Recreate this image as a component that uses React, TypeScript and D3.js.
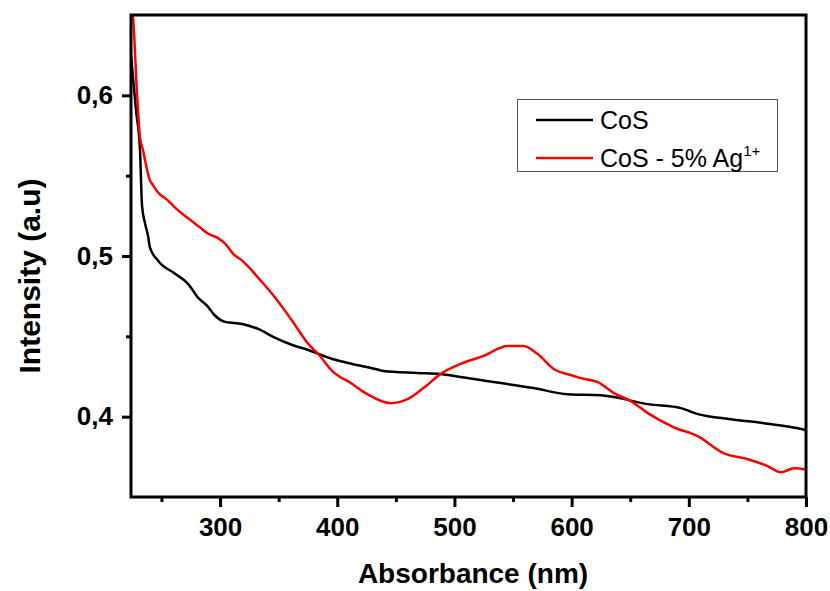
import React, { useEffect, useRef } from "react";
import * as d3 from "d3";

// wavelength (nm) and intensity
const cosNm = [224, 228.3, 231.7, 233.4, 236, 238.5, 240.2, 247.1, 261.6, 272.7, 281.3, 289, 295.8, 304.3, 318.9, 332.5, 347.1, 361.6, 375.3, 395.8, 412.9, 432.5, 439.4, 468.4, 488.1, 511.2, 539.4, 567.6, 596.6, 624.9, 636, 665, 693.2, 707.8, 736, 764.2, 793.2, 800];
const cosVal = [0.625, 0.5907, 0.5657, 0.5314, 0.5202, 0.5127, 0.5052, 0.4971, 0.489, 0.4827, 0.474, 0.469, 0.4628, 0.459, 0.4577, 0.4546, 0.449, 0.4446, 0.4415, 0.4359, 0.4328, 0.4297, 0.4284, 0.4272, 0.4265, 0.424, 0.4209, 0.4178, 0.414, 0.4134, 0.4122, 0.4078, 0.4053, 0.4016, 0.3984, 0.3959, 0.3928, 0.3916];

const agNm = [224, 225.7, 229.1, 231.7, 234.3, 236, 240.2, 241.9, 247.1, 255.6, 261.6, 271.9, 283, 289.8, 297.5, 304.3, 311.2, 318.9, 325.7, 332.5, 347.1, 361.6, 375.3, 383.8, 395.8, 412.9, 421.4, 425.7, 445.4, 459.9, 473.6, 488.1, 505.2, 524.9, 545.4, 559, 571, 584.7, 599.2, 607.8, 622.3, 636, 650.5, 665, 687.2, 707.8, 730, 750.5, 767.6, 778.7, 789.8, 800];
const agVal = [0.655, 0.6488, 0.6013, 0.5738, 0.5657, 0.5595, 0.547, 0.5451, 0.5395, 0.5345, 0.5301, 0.5239, 0.5177, 0.5139, 0.5114, 0.5077, 0.5014, 0.4971, 0.4921, 0.4865, 0.474, 0.4596, 0.4453, 0.439, 0.4284, 0.4203, 0.4159, 0.414, 0.4084, 0.4109, 0.4178, 0.4265, 0.4328, 0.4378, 0.444, 0.444, 0.439, 0.4297, 0.4259, 0.424, 0.4215, 0.4147, 0.4097, 0.4022, 0.3934, 0.3878, 0.3772, 0.3735, 0.3691, 0.3654, 0.3679, 0.3672];

const xMajor = [300, 400, 500, 600, 700, 800];
const xMinor = [250, 350, 450, 550, 650, 750];
const yMajor = [0.4, 0.5, 0.6];
const yMinor = [0.45, 0.55];

const seriesNames = ["CoS", "CoS - 5% Ag"];
const seriesColors = ["#000000", "#ff0000"];

const FONT = "'Liberation Sans', Arial, sans-serif";

const App = () => {
  const svgRef = useRef<SVGSVGElement>(null);

  useEffect(() => {
    const svg = d3.select(svgRef.current);
    svg.selectAll("*").remove();

    const left = 131, right = 806, top = 15, bottom = 497;

    const x = d3.scaleLinear().domain([224, 800]).range([left, right]);
    const y = d3.scaleLinear().domain([0.35, 0.65]).range([bottom, top]);
    const comma = (d: any) => d3.format(".1f")(d).replace(".", ",");

    svg
      .append("defs")
      .append("clipPath")
      .attr("id", "plot")
      .append("rect")
      .attr("x", left)
      .attr("y", top)
      .attr("width", right - left)
      .attr("height", bottom - top);

    const line = d3
      .line<[number, number]>()
      .x((d) => x(d[0]))
      .y((d) => y(d[1]))
      .curve(d3.curveMonotoneX);

    const data = [
      d3.zip(cosNm, cosVal) as [number, number][],
      d3.zip(agNm, agVal) as [number, number][],
    ];

    svg
      .append("g")
      .attr("clip-path", "url(#plot)")
      .selectAll("path")
      .data(data)
      .enter()
      .append("path")
      .attr("d", (d) => line(d))
      .attr("fill", "none")
      .attr("stroke", (d, i) => seriesColors[i])
      .attr("stroke-width", 2.5);

    // axes
    const styleAxis = (g: any) => {
      g.select(".domain").remove();
      g.selectAll(".tick line").attr("stroke", "#000").attr("stroke-width", 3);
      g.selectAll("text")
        .attr("fill", "#000")
        .attr("font-family", FONT)
        .attr("font-size", 26)
        .attr("font-weight", "bold");
    };

    svg
      .append("g")
      .attr("transform", `translate(0,${bottom})`)
      .call(d3.axisBottom(x).tickValues(xMajor).tickSize(10).tickPadding(10.5).tickFormat(d3.format("d")))
      .call(styleAxis);
    svg
      .append("g")
      .attr("transform", `translate(0,${bottom})`)
      .call(d3.axisBottom(x).tickValues(xMinor).tickSize(5).tickFormat(() => ""))
      .call(styleAxis);
    svg
      .append("g")
      .attr("transform", `translate(${left},0)`)
      .call(d3.axisLeft(y).tickValues(yMajor).tickSize(9).tickPadding(9).tickFormat(comma))
      .call(styleAxis);
    svg
      .append("g")
      .attr("transform", `translate(${left},0)`)
      .call(d3.axisLeft(y).tickValues(yMinor).tickSize(5).tickFormat(() => ""))
      .call(styleAxis);

    svg
      .append("rect")
      .attr("x", left)
      .attr("y", top)
      .attr("width", right - left)
      .attr("height", bottom - top)
      .attr("fill", "none")
      .attr("stroke", "#000")
      .attr("stroke-width", 3);

    // titles
    svg
      .append("text")
      .attr("x", 473)
      .attr("y", 583)
      .attr("text-anchor", "middle")
      .attr("font-family", FONT)
      .attr("font-size", 28)
      .attr("font-weight", "bold")
      .text("Absorbance (nm)");
    svg
      .append("text")
      .attr("transform", "translate(40,276) rotate(-90)")
      .attr("text-anchor", "middle")
      .attr("font-family", FONT)
      .attr("font-size", 30)
      .attr("font-weight", "bold")
      .text("Intensity (a.u)");

    // legend
    const lg = svg.append("g");
    lg.append("rect")
      .attr("x", 517.5)
      .attr("y", 99.5)
      .attr("width", 260)
      .attr("height", 72)
      .attr("fill", "#fff")
      .attr("stroke", "#555")
      .attr("stroke-width", 1);
    const rows = lg
      .selectAll("g.row")
      .data(seriesNames)
      .enter()
      .append("g")
      .attr("class", "row")
      .attr("transform", (d, i) => `translate(0,${i === 0 ? 120 : 158})`);
    rows
      .append("line")
      .attr("x1", 536)
      .attr("x2", 593)
      .attr("stroke", (d, i) => seriesColors[i])
      .attr("stroke-width", 2.5);
    const labels = rows
      .append("text")
      .attr("x", 600)
      .attr("y", 9)
      .attr("font-family", FONT)
      .attr("font-size", 25)
      .text((d) => d);
    labels
      .filter((d, i) => i === 1)
      .append("tspan")
      .attr("dy", -11)
      .attr("font-size", 15)
      .text("1+");
  }, []);

  return (
    <svg
      ref={svgRef}
      width={830}
      height={591}
      style={{ position: "absolute", left: 0, top: 0, background: "#fff" }}
    ></svg>
  );
};

export default App;
